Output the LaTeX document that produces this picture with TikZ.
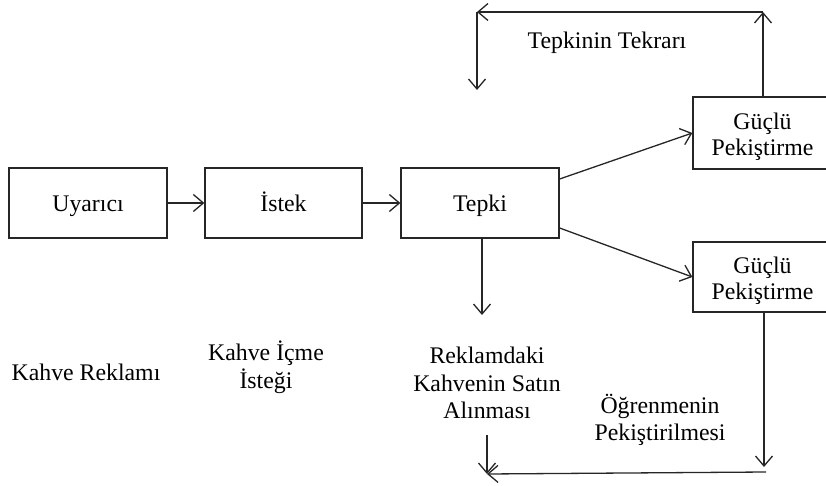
\documentclass[tikz,border=0pt]{standalone}
\usepackage{fontspec}
\setmainfont{Liberation Serif}
\usetikzlibrary{arrows.meta}
\begin{document}
\begin{tikzpicture}[x=1pt,y=-1pt,
  line/.style={line width=1.3pt, draw=black!85},
  box/.style={line, minimum height=70pt, inner sep=0pt, align=center,
    font=\fontsize{23.8}{26.5}\selectfont},
  onebox/.style={box, text height=19pt, text depth=2pt},
  boxtext/.style={inner sep=0pt, align=center, font=\fontsize{23.8}{26.5}\selectfont},
  lbl/.style={inner sep=0pt, align=center, font=\fontsize{23.8}{27.5}\selectfont},
  arr/.style={line, -{Straight Barb[length=10pt,width=17pt,line width=1.3pt]}}]
\useasboundingbox (0,0) rectangle (826,486);
\clip (0,0) rectangle (826,486);

% main chain
\node[onebox, minimum width=158pt] (uyarici) at (88,203) {Uyarıcı};
\node[onebox, minimum width=157pt] (istek) at (283.5,203) {İstek};
\node[onebox, minimum width=158pt] (tepki) at (480,203) {Tepki};

% reinforcement boxes (run off the right edge)
\node[box, minimum width=139pt, minimum height=72pt] (guclu1) at (762.5,133) {};
\node[boxtext] (guclu1txt) at ([yshift=-4pt]guclu1.center) {Güçlü\\Pekiştirme};
\node[box, minimum width=139pt] (guclu2) at (762.5,277) {};
\node[boxtext] (guclu2txt) at ([yshift=-4pt]guclu2.center) {Güçlü\\Pekiştirme};

% labels
\node[lbl] (reklam) at (86,372) {Kahve Reklamı};
\node[lbl] (icme) at (266,367) {Kahve İçme\\İsteği};
\node[lbl] (satin) at (487,383) {Reklamdaki\\Kahvenin Satın\\Alınması};
\node[lbl] (ogrenme) at (660,420) {Öğrenmenin\\Pekiştirilmesi};
\node[lbl] (tekrar) at (607,43) {Tepkinin Tekrarı};

% chain arrows
\draw[arr] (uyarici) -- (istek);
\draw[arr] (istek) -- (tepki);
\draw[arr] (tepki.east |- 0,179) -- (guclu1.west);
\draw[arr] (tepki.east |- 0,228) -- (guclu2.west);
\coordinate (tdown) at (482,315);
\draw[arr] (tepki.south -| tdown) -- (tdown);

% repetition loop
\coordinate (tr) at (763,12);
\coordinate (tl) at (477,12);
\coordinate (tlb) at (477,90);
\draw[arr] (guclu1.north -| tr) -- (tr);
\draw[arr] (tr) -- (tl);
\draw[arr] (tl) -- (tlb);

% reinforcement loop
\coordinate (bv) at (764,467);
\coordinate (br) at (766,472);
\coordinate (bl) at (487,474);
\coordinate (bs) at (487,435);
\draw[arr] (guclu2.south -| bv) -- (bv);
\draw[arr] (br) -- (bl);
\draw[arr] (bs) -- (bl);
\end{tikzpicture}
\end{document}
